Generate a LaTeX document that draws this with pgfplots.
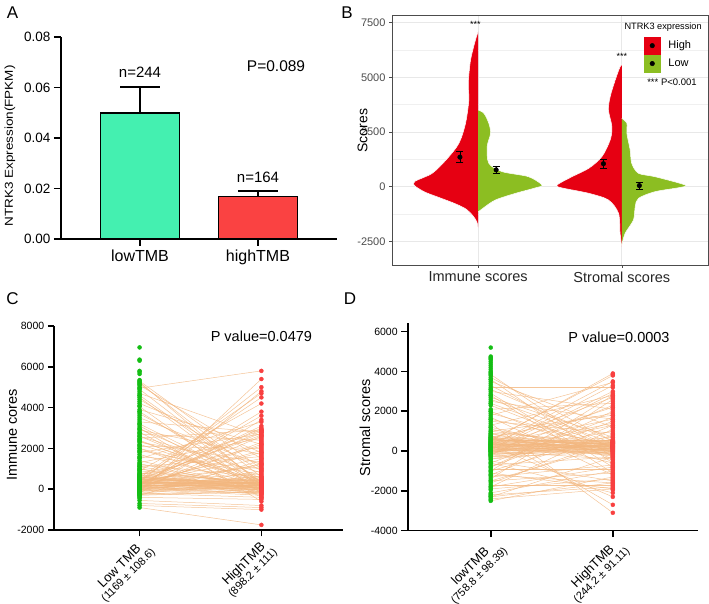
\documentclass[border=0pt]{standalone}
\usepackage{fontspec}
\setmainfont{Liberation Sans}
\usepackage{pgfplots}
\usepackage{pgfplotstable}
\pgfplotsset{compat=1.18}
\pgfkeys{/pgf/number format/assume math mode=true}

\definecolor{barGreen}{RGB}{68,240,176}
\definecolor{barRed}{RGB}{250,66,66}
\definecolor{vRed}{RGB}{230,0,18}
\definecolor{vGreen}{RGB}{140,190,34}
\definecolor{dotGreen}{RGB}{20,190,20}
\definecolor{dotRed}{RGB}{248,64,64}
\definecolor{pairLine}{RGB}{242,182,126}

\newcommand\fs[2]{\fontsize{#1}{#2}\selectfont}

% panel C: paired low/high TMB immune scores
\pgfplotstableread{
lo hi
4950 5800
5250 200
5200 600
5100 1500
4900 300
4700 2600
4500 100
4400 900
4200 1800
4050 -200
3900 2200
3700 500
3500 1200
3300 2800
3100 0
2950 400
2900 1700
2800 -400
2700 2400
2600 800
2500 2900
2400 100
2300 1300
2200 300
2100 2000
2000 -100
1900 700
1800 2700
1700 200
1600 1000
1500 3300
1400 0
1300 2500
1200 600
1100 1600
1000 150
900 4200
800 350
700 2100
600 50
550 4700
500 250
450 1100
400 -50
350 5000
300 450
250 1900
200 100
150 3800
100 300
50 2300
0 -300
-50 4800
-100 200
-150 5400
-200 3400
-250 0
-300 1400
-400 -500
-550 -800
-700 -900
-800 -1000
-900 -1750
300 3000
200 2850
450 4500
100 650
350 150
250 -150
150 500
400 750
500 -250
50 400
600 250
0 2600
350 1500
1250 0
2350 350
-100 900
700 50
5300 1000
3000 -600
450 2750
250 1200
0 100
50 250
100 0
150 350
200 200
250 50
300 300
350 -100
400 150
450 400
500 100
550 300
600 -50
650 200
50 -200
-50 50
-100 350
-150 100
-200 250
-250 -150
0 450
100 550
200 -50
300 100
400 500
500 300
600 150
700 400
800 0
900 250
150 -250
250 600
350 350
450 50
550 -200
0 150
-300 -100
-200 -400
1000 -150
1100 200
2000 450
2600 150
3200 250
3800 100
4600 350
250 3100
100 2200
300 1800
500 2650
-50 1250
200 3600
700 2900
}\pairsC
\pgfplotstableread{
y
6950
6350
6300
5800
5750
5650
5350
5150
5000
4800
4600
4300
4100
3800
3600
3400
3200
2750
2450
2150
1850
1550
1150
950
750
650
-350
-450
}\extraLoC
\pgfplotstableread{
y
2950
2880
2820
2780
2650
2550
2450
2350
2250
2150
2050
1950
1850
1750
1650
1550
1450
1350
1250
1150
1050
950
850
550
-350
-450
}\extraHiC

% panel D: paired low/high TMB stromal scores
\pgfplotstableread{
lo hi
3850 -300
3700 500
3500 1200
3300 100
3200 3200
3000 2100
2900 -800
2700 700
2500 1600
2300 -100
2100 2400
1900 200
1700 -1200
1500 900
1300 2800
1100 0
900 -600
700 1900
600 300
500 3900
450 100
400 2700
350 -200
300 400
250 3500
200 50
150 1400
100 250
50 3000
0 -400
-50 350
-100 1000
-150 150
-200 2300
-300 -50
-400 600
-500 -1500
-600 1700
-700 -300
-800 2000
-900 -900
-1000 800
-1100 -1900
-1200 1300
-1300 -700
-1400 2600
-1500 -1100
-1600 500
-1700 -1700
-1800 1100
-1900 -1400
-2100 -1000
-2200 -1800
-2300 -1600
-2400 -1900
-2500 -1300
300 -2300
800 -2700
1400 -3100
550 3800
200 450
100 -150
350 200
600 0
0 300
450 -250
250 550
-250 150
150 700
700 -50
2600 400
1800 3450
-1000 2800
1000 1800
0 100
50 250
100 400
150 0
200 300
250 150
300 500
350 50
400 250
450 400
500 200
550 550
600 100
650 350
700 200
100 -100
-50 450
-100 200
-150 0
-200 350
0 550
200 -100
300 200
400 0
500 450
650 -150
750 300
850 100
900 450
1000 250
-300 400
-400 100
1200 -200
1600 300
2000 -400
2400 200
2800 -1100
3100 500
3600 -600
-2300 -300
-1800 -800
-1500 300
-1200 -1600
-600 -2100
350 1600
200 2200
0 1300
-200 2900
100 3300
-800 1500
}\pairsD
\pgfplotstableread{
y
5200
4750
4700
4650
4600
4500
4400
4300
4200
4100
4000
3950
3900
3800
3600
3400
3100
2800
2400
2000
1600
1200
800
-1950
-2150
-2250
-2450
}\extraLoD
\pgfplotstableread{
y
3850
2750
2650
2500
2200
1800
1500
1200
850
-450
-550
-650
-750
-850
-950
-1150
-1250
-1350
-1450
-1550
-1650
-1750
-1850
-1950
}\extraHiD

\begin{document}
\begin{tikzpicture}[x=1pt,y=1pt]
\useasboundingbox (0,0) rectangle (709,604);

\node[font=\fs{17}{19}] at (12.5,591.5) {A};
\node[font=\fs{17}{19}] at (347,591.5) {B};
\node[font=\fs{17}{19}] at (12.5,305) {C};
\node[font=\fs{17}{19}] at (350,305) {D};

% ---------------- A: bar chart
\begin{axis}[
  at={(61pt,365pt)}, anchor=south west, scale only axis,
  width=276pt, height=202pt,
  xmin=0.33, xmax=2.67, ymin=0, ymax=0.08,
  axis x line=bottom, axis y line=left,
  axis line style={line width=1.6pt,-},
  tick align=outside, major tick length=7pt,
  tick style={line width=1.6pt,black},
  xtick={1,2}, xticklabels={lowTMB,highTMB},
  ytick={0,0.02,0.04,0.06,0.08},
  scaled y ticks=false,
  yticklabel style={/pgf/number format/fixed,/pgf/number format/fixed zerofill,
    /pgf/number format/precision=2},
  xticklabel style={font=\fs{16}{18}},
  yticklabel style={font=\fs{13.5}{15}},
  ylabel={\scalebox{1}[0.85]{NTRK3 Expression(FPKM)}},
  ylabel style={at={(axis description cs:-0.185,0.46)},anchor=center,font=\fs{13.5}{15}},
  clip=false,
]
\addplot[ybar, bar width=0.67, bar shift=0pt, fill=barGreen, draw=black, line width=1.8pt,
  error bars/.cd, y dir=plus, y explicit, error mark=|,
  error bar style={line width=1.8pt,black},
  error mark options={mark size=20pt,line width=1.8pt,black}]
  coordinates {(1,0.0500) += (0,0.0101)};
\addplot[ybar, bar width=0.67, bar shift=0pt, fill=barRed, draw=black, line width=1.8pt,
  error bars/.cd, y dir=plus, y explicit, error mark=|,
  error bar style={line width=1.8pt,black},
  error mark options={mark size=20pt,line width=1.8pt,black}]
  coordinates {(2,0.0168) += (0,0.0022)};
\node[font=\fs{15}{17}] at (axis cs:1,0.0661) {n=244};
\node[font=\fs{15}{17}] at (axis cs:2,0.02455) {n=164};
\node[font=\fs{15.5}{17}] at (axis cs:2.153,0.0685) {P=0.089};
\end{axis}

% ---------------- B: split violins
\begin{axis}[
  at={(392pt,339pt)}, anchor=south west, scale only axis,
  width=316pt, height=250pt,
  xmin=0.4, xmax=2.6, ymin=-3580, ymax=7850,
  axis line style={black!70,line width=0.6pt},
  xtick={1,2}, xticklabels={Immune scores,Stromal scores},
  ytick={-2500,0,2500,5000,7500},
  minor ytick={-1250,1250,3750,6250},
  grid=both,
  major grid style={black!9,line width=0.8pt},
  minor grid style={black!6,line width=0.4pt},
  tick align=outside, major tick length=3pt, minor tick length=0pt,
  tick style={black!70,line width=0.5pt},
  xtick pos=bottom, ytick pos=left,
  scaled y ticks=false,
  yticklabel style={/pgf/number format/1000 sep={},font=\fs{11}{13},text=black!70},
  xticklabel style={font=\fs{14.5}{16},text=black!85},
  ylabel={Scores},
  ylabel style={at={(axis description cs:-0.093,0.537)},anchor=center,font=\fs{14}{16}},
  legend style={at={(0.797,0.913)},anchor=north west,draw=none,fill=none,
    font=\fs{11}{13},inner sep=0pt,row sep=0.5pt,
    nodes={inner sep=1pt},
    /tikz/every odd column/.append style={column sep=7pt}},
  legend cell align=left,
]
% Immune, high (left half)
\addplot[fill=vRed, draw=white, line width=0.5pt, smooth, forget plot] coordinates {
  (1,-1888) (0.99,-1600) (0.96,-1300) (0.91,-1000) (0.83,-750) (0.73,-500)
  (0.63,-250) (0.565,0) (0.553,78) (0.56,250) (0.68,612) (0.78,1250)
  (0.866,1983) (0.912,2897) (0.935,3962) (0.931,4725) (0.947,5790)
  (0.981,6705) (1,7084)};
% Immune, low (right half)
\addplot[fill=vGreen, draw=white, line width=0.5pt, smooth, forget plot] coordinates {
  (1,-1157) (1.03,-1000) (1.12,-608) (1.26,-303) (1.40,-50) (1.444,78)
  (1.35,457) (1.167,686) (1.074,1069) (1.0625,1828) (1.086,2440)
  (1.074,2897) (1.04,3354) (1,3506)};
% Stromal, high (left half)
\addplot[fill=vRed, draw=white, line width=0.5pt, smooth, forget plot] coordinates {
  (2,-2742) (1.988,-2130) (1.977,-1216) (1.907,-608) (1.77,-302)
  (1.58,-50) (1.549,78) (1.653,457) (1.77,841) (1.861,1371) (1.919,2134)
  (1.931,2742) (1.907,3506) (1.919,4114) (1.954,4876) (1.988,5485) (2,5562)};
% Stromal, low (right half)
\addplot[fill=vGreen, draw=white, line width=0.5pt, smooth, forget plot] coordinates {
  (2,-2665) (2.023,-2130) (2.081,-1522) (2.093,-914) (2.116,-531)
  (2.231,-228) (2.40,-40) (2.44,78) (2.231,457) (2.116,612) (2.069,1069)
  (2.058,1677) (2.035,2438) (2.035,2897) (2,3125)};
% means with error bars
\addplot[only marks, mark=*, mark size=2.3pt, black, forget plot,
  error bars/.cd, y dir=both, y explicit, error mark=|,
  error bar style={black,line width=0.6pt},
  error mark options={mark size=3.5pt,black,line width=0.6pt}]
  coordinates {(0.873,1350) +- (0,250) (1.125,770) +- (0,150)
               (1.872,1050) +- (0,205) (2.122,50) +- (0,150)};
\addlegendimage{legend image code/.code={
  \fill[vRed] (0pt,-8.5pt) rectangle (16pt,8.5pt);
  \fill[black] (8pt,0pt) circle (2.3pt);}}
\addlegendentry{High}
\addlegendimage{legend image code/.code={
  \fill[vGreen] (0pt,-8.5pt) rectangle (16pt,8.5pt);
  \fill[black] (8pt,0pt) circle (2.3pt);}}
\addlegendentry{Low}
\node[font=\fs{9}{10}] at (axis cs:0.98,7436) {***};
\node[font=\fs{9}{10}] at (axis cs:2,5973) {***};
\node[font=\fs{9.2}{10}] at (axis description cs:0.858,0.952) {NTRK3 expression};
\node[font=\fs{9.5}{10}] at (axis description cs:0.886,0.732) {*** P<0.001};
\end{axis}

% ---------------- C: immune paired plot
\begin{axis}[
  at={(54.3pt,74pt)}, anchor=south west, scale only axis,
  width=288.7pt, height=204pt,
  xmin=0.30, xmax=2.67, ymin=-2000, ymax=8000,
  axis x line=bottom, axis y line=left,
  axis line style={line width=1.6pt,-},
  tick align=outside, major tick length=6.5pt,
  tick style={line width=1.6pt,black},
  xtick={1,2},
  xticklabels={{\fs{13}{16}Low TMB\\\fs{11}{16}(1169 ± 108.6)},
               {\fs{13}{16}HighTMB\\\fs{11}{16}(898.2 ± 111)}},
  xticklabel style={xshift=12pt,yshift=-7pt,rotate=45,anchor=east,align=center},
  ytick={-2000,0,2000,4000,6000,8000},
  scaled y ticks=false,
  yticklabel style={/pgf/number format/1000 sep={},font=\fs{10.5}{12}},
  ylabel={Immune cores},
  ylabel style={at={(axis description cs:-0.147,0.466)},anchor=center,font=\fs{14.5}{16}},
  clip=false,
]
\addplot[pairLine, line width=0.5pt, opacity=0.8, no marks,
  quiver={u=1,v=\thisrow{hi}-\thisrow{lo}}]
  table[x expr=1, y=lo] {\pairsC};
\addplot[only marks, mark=*, mark size=2pt, dotGreen] table[x expr=1, y=lo] {\pairsC};
\addplot[only marks, mark=*, mark size=2pt, dotGreen] table[x expr=1, y=y] {\extraLoC};
\addplot[only marks, mark=*, mark size=2pt, dotRed] table[x expr=2, y=hi] {\pairsC};
\addplot[only marks, mark=*, mark size=2pt, dotRed] table[x expr=2, y=y] {\extraHiC};
\node[font=\fs{14.5}{16}] at (axis cs:2.0,7475) {P value=0.0479};
\end{axis}

% ---------------- D: stromal paired plot
\begin{axis}[
  at={(407.7pt,73.3pt)}, anchor=south west, scale only axis,
  width=290.6pt, height=208pt,
  xmin=0.32, xmax=2.70, ymin=-4000, ymax=6450,
  axis x line=bottom, axis y line=left,
  axis line style={line width=1.6pt,-},
  tick align=outside, major tick length=6.5pt,
  tick style={line width=1.6pt,black},
  xtick={1,2},
  xticklabels={{\fs{13}{16}lowTMB\\\fs{11}{16}(758.8 ± 98.39)},
               {\fs{13}{16}HighTMB\\\fs{11}{16}(244.2 ± 91.11)}},
  xticklabel style={xshift=13pt,yshift=-5pt,rotate=45,anchor=east,align=center},
  ytick={-4000,-2000,0,2000,4000,6000},
  scaled y ticks=false,
  yticklabel style={/pgf/number format/1000 sep={},font=\fs{10.5}{12}},
  ylabel={Stromal scores},
  ylabel style={at={(axis description cs:-0.147,0.494)},anchor=center,font=\fs{14.5}{16}},
  clip=false,
]
\addplot[pairLine, line width=0.5pt, opacity=0.8, no marks,
  quiver={u=1,v=\thisrow{hi}-\thisrow{lo}}]
  table[x expr=1, y=lo] {\pairsD};
\addplot[only marks, mark=*, mark size=2pt, dotGreen] table[x expr=1, y=lo] {\pairsD};
\addplot[only marks, mark=*, mark size=2pt, dotGreen] table[x expr=1, y=y] {\extraLoD};
\addplot[only marks, mark=*, mark size=2pt, dotRed] table[x expr=2, y=hi] {\pairsD};
\addplot[only marks, mark=*, mark size=2pt, dotRed] table[x expr=2, y=y] {\extraHiD};
\node[font=\fs{14.5}{16}] at (axis cs:2.05,5734) {P value=0.0003};
\end{axis}
\end{tikzpicture}
\end{document}
